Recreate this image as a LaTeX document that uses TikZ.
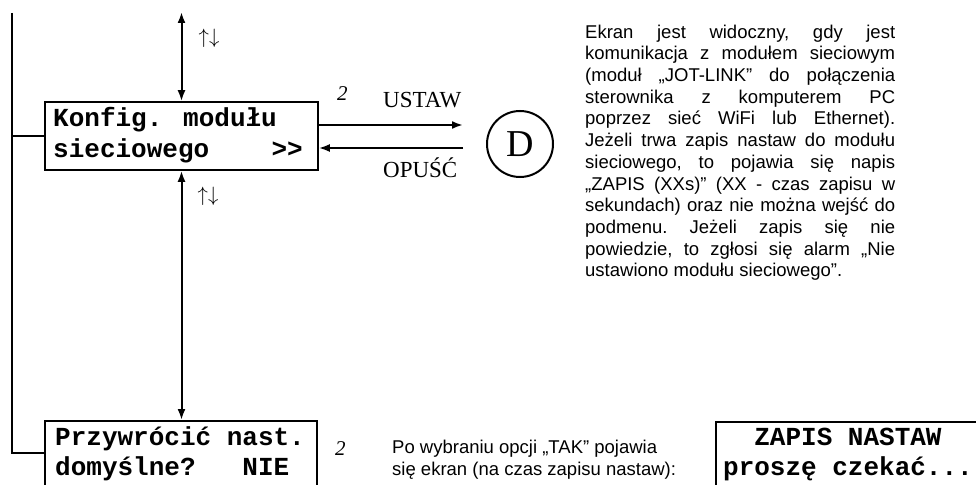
\documentclass[tikz,border=0pt]{standalone}
\usepackage{fontspec}
\setmainfont{Liberation Serif}
\newfontfamily\arialf{Liberation Sans}
\newfontfamily\monof{Liberation Mono}
\usetikzlibrary{arrows.meta}
\begin{document}
\begin{tikzpicture}[x=1pt,y=-1pt,
  screen/.style={draw, line width=1.6pt, inner sep=0pt},
  lcd/.style={font=\monof\bfseries\fontsize{26}{30}\selectfont, inner sep=0pt},
  arr/.style={line width=2pt, -{Latex[length=11pt,width=8pt]}},
  darr/.style={line width=2pt, {Latex[length=11pt,width=8pt]}-{Latex[length=11pt,width=8pt]}},
  wire/.style={line width=1.5pt},
  lbl/.style={font=\fontsize{23}{26}\selectfont, inner sep=0pt, anchor=base west},
  num/.style={font=\itshape\fontsize{21}{24}\selectfont, inner sep=0pt, anchor=base west},
  updown/.style={font=\fontsize{22}{26}\selectfont, inner sep=0pt},
  body/.style={font=\arialf\fontsize{18.5}{21.7}\selectfont, inner sep=0pt}
]
\useasboundingbox (0,0) rectangle (976,484);
\clip (0,0) rectangle (976,484);

% screens
\node[screen, minimum width=273pt, minimum height=68pt] (b1) at (181.5,136) {};
\node[screen, minimum width=272pt, minimum height=90pt, anchor=north west] (b2) at (44,420) {};
\node[screen, minimum width=275pt, minimum height=90pt, anchor=north west] (b3) at (715,421) {};

% screen texts
\node[lcd, anchor=base west] (t1a) at (53,127) {Konfig. modułu};
\node[lcd, anchor=base west] (t1b) at (53,157) {sieciowego\ \ \ \ >{}>};
\node[lcd, anchor=base west] (t2a) at (55,445) {Przywrócić nast.};
\node[lcd, anchor=base west] (t2b) at (55,475) {domyślne?\ \ \ NIE};
\node[lcd, anchor=base] (t3a) at (848,445) {ZAPIS NASTAW};
\node[lcd, anchor=base] (t3b) at (848,475) {proszę czekać...};

% circle D
\node[draw, circle, line width=2pt, minimum size=66pt, inner sep=0pt,
      font=\fontsize{38}{40}\selectfont] (D) at (520,144) {D};

% vertical arrows
\coordinate (top) at (181.5,12);
\draw[darr] (top) -- (b1.north);
\draw[darr] (b1.south) -- (b1.south |- b2.north);
\node[updown] (ud1) at (209,38) {$\uparrow\downarrow$};
\node[updown] (ud2) at (208,196) {$\uparrow\downarrow$};

% horizontal arrows
\coordinate (u) at (463,125);
\coordinate (o) at (463,148);
\draw[arr] (b1.east |- u) -- (u);
\draw[arr] (o) -- (b1.east |- o);
\node[lbl] (ustaw) at (383,108) {USTAW};
\node[lbl] (opusc) at (383,177) {OPUŚĆ};
\node[num] (n1) at (337,101) {2};
\node[num] (n2) at (335,455) {2};

% left wire
\coordinate (ltop) at (12,13);
\coordinate (lbot) at (12,453);
\draw[wire] (ltop) -- (lbot) -- (lbot -| b2.west);
\draw[wire] (ltop |- b1.west) -- (b1.west);

% description paragraph
\node[body, anchor=north west, text width=310pt, align=justify] (para) at (585,24.5) {\frenchspacing
Ekran jest widoczny, gdy jest\linebreak
komunikacja z modułem sieciowym\linebreak
(moduł „JOT-LINK” do połączenia\linebreak
sterownika z komputerem PC\linebreak
poprzez sieć WiFi lub Ethernet).\linebreak
Jeżeli trwa zapis nastaw do modułu\linebreak
sieciowego, to pojawia się napis\linebreak
„ZAPIS (XXs)” (XX - czas zapisu w\linebreak
sekundach) oraz nie można wejść do\linebreak
podmenu. Jeżeli zapis się nie\linebreak
powiedzie, to zgłosi się alarm „Nie\linebreak
ustawiono modułu sieciowego”.};

% bottom note
\node[body, anchor=base west] (note1) at (392,453) {Po wybraniu opcji „TAK” pojawia};
\node[body, anchor=base west] (note2) at (392,475) {się ekran (na czas zapisu nastaw):};
\end{tikzpicture}
\end{document}
